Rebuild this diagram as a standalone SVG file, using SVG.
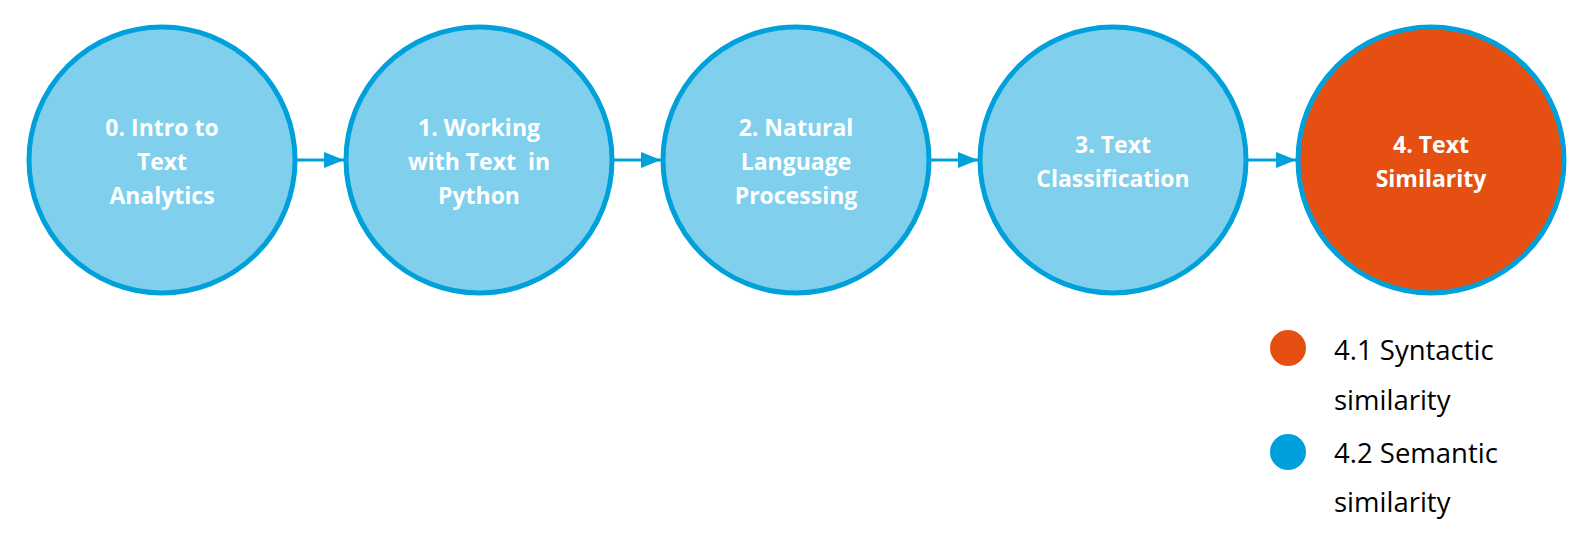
<svg xmlns="http://www.w3.org/2000/svg" width="1576" height="544" viewBox="0 0 1576 544">
<style>
.node{fill:#7fcfed;stroke:#00a0db;stroke-width:5}
.hl{fill:#e64f12;stroke:#00a0db;stroke-width:5}
.lbl{font-family:"Open Sans","Liberation Sans",sans-serif;font-weight:bold;font-size:23px;fill:#fff;text-anchor:middle}
.leg{font-family:"Open Sans","Liberation Sans",sans-serif;font-size:27.5px;fill:#000}
.conn{stroke:#00a0db;stroke-width:3;fill:none}
</style>
<defs>
<marker id="arr" markerWidth="20" markerHeight="16" refX="20" refY="8" orient="auto" markerUnits="userSpaceOnUse">
<path d="M0,0 L20,8 L0,16 Z" fill="#00a0db"/>
</marker>
</defs>
<rect width="1576" height="544" fill="#fff"/>
<g id="connectors">
<line class="conn" x1="297" y1="160" x2="344" y2="160" marker-end="url(#arr)"/>
<line class="conn" x1="614" y1="160" x2="661" y2="160" marker-end="url(#arr)"/>
<line class="conn" x1="931" y1="160" x2="978" y2="160" marker-end="url(#arr)"/>
<line class="conn" x1="1248" y1="160" x2="1296" y2="160" marker-end="url(#arr)"/>
</g>
<g id="n0">
<circle class="node" cx="162" cy="160" r="133"/>
<text class="lbl" x="162" y="136">0. Intro to</text>
<text class="lbl" x="162" y="170">Text</text>
<text class="lbl" x="162" y="204">Analytics</text>
</g>
<g id="n1">
<circle class="node" cx="479" cy="160" r="133"/>
<text class="lbl" x="479" y="136">1. Working</text>
<text class="lbl" x="479" y="170" xml:space="preserve">with Text  in</text>
<text class="lbl" x="479" y="204">Python</text>
</g>
<g id="n2">
<circle class="node" cx="796" cy="160" r="133"/>
<text class="lbl" x="796" y="136">2. Natural</text>
<text class="lbl" x="796" y="170">Language</text>
<text class="lbl" x="796" y="204">Processing</text>
</g>
<g id="n3">
<circle class="node" cx="1113" cy="160" r="133"/>
<text class="lbl" x="1113" y="153">3. Text</text>
<text class="lbl" x="1113" y="187">Classification</text>
</g>
<g id="n4">
<circle class="hl" cx="1431" cy="160" r="133"/>
<text class="lbl" x="1431" y="153">4. Text</text>
<text class="lbl" x="1431" y="187">Similarity</text>
</g>
<g id="legend">
<circle cx="1288" cy="348" r="18" fill="#e64f12"/>
<circle cx="1288" cy="452" r="18" fill="#00a0dc"/>
<text class="leg" x="1334" y="360">4.1 Syntactic</text>
<text class="leg" x="1334" y="410">similarity</text>
<text class="leg" x="1334" y="463">4.2 Semantic</text>
<text class="leg" x="1334" y="512">similarity</text>
</g>
</svg>
